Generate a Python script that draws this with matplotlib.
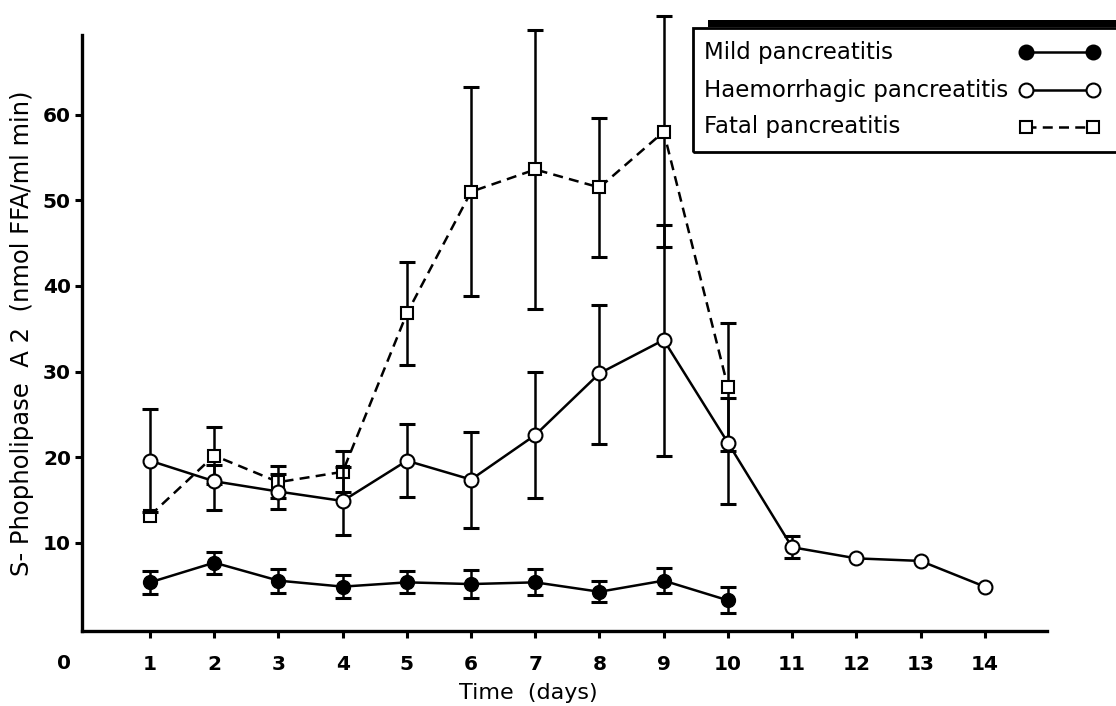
import matplotlib
matplotlib.use('Agg')
import matplotlib.pyplot as plt
import numpy as np
from matplotlib.lines import Line2D
from matplotlib.patches import Rectangle

# Values (mean +/- error)
days_mild = [1, 2, 3, 4, 5, 6, 7, 8, 9, 10]
mild = [5.4, 7.7, 5.6, 4.9, 5.4, 5.2, 5.4, 4.3, 5.6, 3.3]
mild_err = [1.35, 1.3, 1.4, 1.3, 1.3, 1.6, 1.5, 1.2, 1.5, 1.5]

days_haem = [1, 2, 3, 4, 5, 6, 7, 8, 9, 10, 11, 12, 13, 14]
haem = [19.6, 17.2, 16.0, 14.9, 19.6, 17.4, 22.6, 29.8, 33.7, 21.7, 9.5, 8.2, 7.9, 4.9]
haem_err_low = [6.0, 3.4, 2.0, 4.0, 4.2, 5.6, 7.4, 8.2, 13.5, 7.1, 1.3, 0, 0, 0]
haem_err_high = [6.0, 1.9, 2.0, 4.0, 4.3, 5.6, 7.4, 8.0, 13.4, 5.2, 1.3, 0, 0, 0]

days_fatal = [1, 2, 3, 4, 5, 6, 7, 8, 9, 10]
fatal = [13.2, 20.2, 17.1, 18.3, 36.8, 51.0, 53.6, 51.5, 58.0, 28.2]
fatal_err = [0, 3.3, 1.9, 2.4, 6.0, 12.2, 16.3, 8.1, 13.5, 7.5]

legend_labels = ['Mild pancreatitis', 'Haemorrhagic pancreatitis', 'Fatal pancreatitis']

W, H = 1116, 706
FS = 14.5


def px(x, y):
    return x / W, 1 - y / H


def err_bars(ax, x, y, lo, hi, z):
    x = np.asarray(x, float)
    y = np.asarray(y, float)
    lo = np.asarray(lo, float)
    hi = np.asarray(hi, float)
    m = (lo > 0) | (hi > 0)
    eb = ax.errorbar(x[m], y[m], yerr=[lo[m], hi[m]], fmt='none', ecolor='black',
                     elinewidth=1.8, capsize=6, capthick=2.2, zorder=z)
    for a in eb.lines[1] + eb.lines[2]:
        a.set_clip_on(False)


fig = plt.figure(figsize=(W / 100, H / 100), dpi=100)
ax = fig.add_axes([82 / W, 1 - 631 / H, (1047 - 82) / W, (631 - 35) / H])

# fatal (dashed, squares)
err_bars(ax, days_fatal, fatal, fatal_err, fatal_err, 2)
ax.plot(days_fatal, fatal, color='black', lw=1.8, ls=(0, (4, 2.5)), marker='s', ms=9,
        mfc='white', mec='black', mew=1.5, zorder=3, clip_on=False)

# haemorrhagic (solid, open circles)
err_bars(ax, days_haem, haem, haem_err_low, haem_err_high, 4)
ax.plot(days_haem, haem, color='black', lw=1.8, marker='o', ms=10,
        mfc='white', mec='black', mew=1.5, zorder=5, clip_on=False)

# mild (solid, filled circles)
err_bars(ax, days_mild, mild, mild_err, mild_err, 6)
ax.plot(days_mild, mild, color='black', lw=1.8, marker='o', ms=10,
        mfc='black', mec='black', zorder=7, clip_on=False)

ax.set_xlim(-0.06, 14.97)
ax.set_ylim(-0.28, 69.3)
ax.set_xticks(range(1, 15))
ax.set_yticks([10, 20, 30, 40, 50, 60])
for s in ['top', 'right']:
    ax.spines[s].set_visible(False)
for s in ['left', 'bottom']:
    ax.spines[s].set_linewidth(2.4)
ax.tick_params(axis='both', direction='out', length=5, width=2.2, labelsize=FS)
ax.tick_params(axis='x', pad=12)
ax.tick_params(axis='y', pad=3)
for t in ax.get_xticklabels() + ax.get_yticklabels():
    t.set_fontweight('bold')

ax.text(-0.34, -3.0, '0', transform=ax.transData, fontsize=FS, fontweight='bold',
        ha='center', va='top')

ax.set_xlabel('Time  (days)', fontsize=16, va='bottom')
ax.xaxis.set_label_coords(0.462, -0.121)
ax.set_ylabel('S- Phopholipase  A 2  (nmol FFA/ml min)', fontsize=17.5)
ax.yaxis.set_label_coords(-0.050, 0.5)

# legend box, drawn by hand (its right side runs off the page)
x0, y0 = px(693, 152)
fig.patches.append(Rectangle((x0, y0), px(1130, 0)[0] - x0, (152 - 28) / H,
                             transform=fig.transFigure, fill=False, lw=2, ec='black'))
bx, by = px(708, 27)
fig.patches.append(Rectangle((bx, by), 1 - bx + 0.01, 7 / H, transform=fig.transFigure,
                             fc='black', ec='black', lw=0))

rows = [52, 90, 127]
styles = [
    dict(ls='-', marker='o', ms=10, mfc='black'),
    dict(ls='-', marker='o', ms=10, mfc='white'),
    dict(ls=(0, (4, 2.5)), marker='s', ms=9, mfc='white'),
]
for label, yy, st in zip(legend_labels, rows, styles):
    tx, ty = px(704, yy)
    fig.text(tx, ty, label, fontsize=16.5, ha='left', va='center')
    a, _ = px(1026, yy)
    b, yy_f = px(1093, yy)
    fig.add_artist(Line2D([a, b], [yy_f, yy_f], transform=fig.transFigure, color='black',
                          lw=1.8, mec='black', mew=1.5, **st))

fig.savefig('out.png', dpi=100)
